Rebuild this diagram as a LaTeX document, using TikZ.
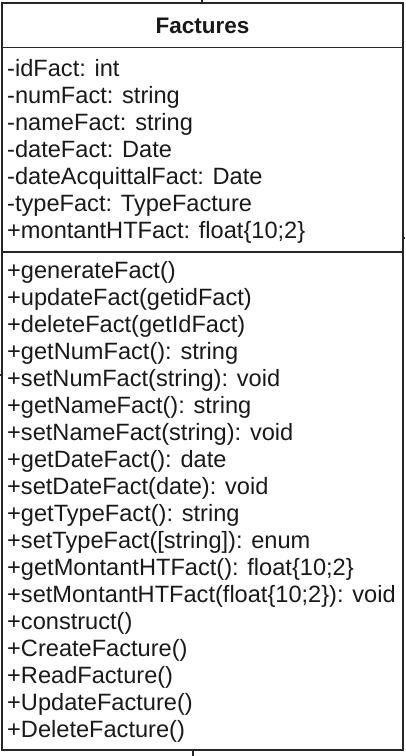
\documentclass[tikz,border=0pt]{standalone}
\usepackage{fontspec}
\setmainfont{Liberation Sans}
\begin{document}
\begin{tikzpicture}[x=1pt,y=1pt,
  frame/.style={draw=black!85,line width=1.5pt},
  entry/.style={anchor=base west,inner sep=0pt,font=\fontsize{23.6}{27}\selectfont,text=black!90},
  title/.style={anchor=base,inner sep=0pt,font=\bfseries\fontsize{22.5}{27}\selectfont,text=black!90},
  stub/.style={draw=black!85,line width=1.2pt}]
\useasboundingbox (0,0) rectangle (405,-756);
% class box and compartment separators
\node[frame,rectangle,minimum width=401pt,minimum height=747pt,inner sep=0pt] (cls) at (202.5,-376.5) {};
\coordinate (h1) at (2,-47.5);
\coordinate (h2) at (403,-47.5);
\coordinate (s1) at (2,-252);
\coordinate (s2) at (403,-252);
\draw[frame] (h1) -- (h2);
\draw[frame] (s1) -- (s2);
% class name
\node[title] (name) at (202.5,-33) {Factures};
% attributes
\foreach \t [count=\i] in {
  -idFact: int,
  -numFact: string,
  -nameFact: string,
  -dateFact: Date,
  -dateAcquittalFact: Date,
  -typeFact: TypeFacture,
  {+montantHTFact: float\{10;2\}}}
  \node[entry] (a\i) at (7,{-76-27*(\i-1)}) {\t};
% operations
\foreach \t [count=\i] in {
  +generateFact(),
  +updateFact(getidFact),
  +deleteFact(getIdFact),
  +getNumFact(): string,
  +setNumFact(string): void,
  +getNameFact(): string,
  +setNameFact(string): void,
  +getDateFact(): date,
  +setDateFact(date): void,
  +getTypeFact(): string,
  {+setTypeFact([string]): enum},
  {+getMontantHTFact(): float\{10;2\}},
  {+setMontantHTFact(float\{10;2\}): void},
  +construct(),
  +CreateFacture(),
  +ReadFacture(),
  +UpdateFacture(),
  +DeleteFacture()}
  \node[entry] (m\i) at (7,{-278-27*(\i-1)}) {\t};
% ends of connectors leaving the box
\coordinate (ctop) at (202,0);
\coordinate (cright) at (405,-238);
\coordinate (cleft) at (0,-375);
\coordinate (cbottom) at (193,-756);
\draw[stub] (cls.north -| ctop) -- (ctop);
\draw[stub] (cls.east |- cright) -- (cright);
\draw[stub] (cls.west |- cleft) -- (cleft);
\draw[stub] (cls.south -| cbottom) -- (cbottom);
\end{tikzpicture}
\end{document}
